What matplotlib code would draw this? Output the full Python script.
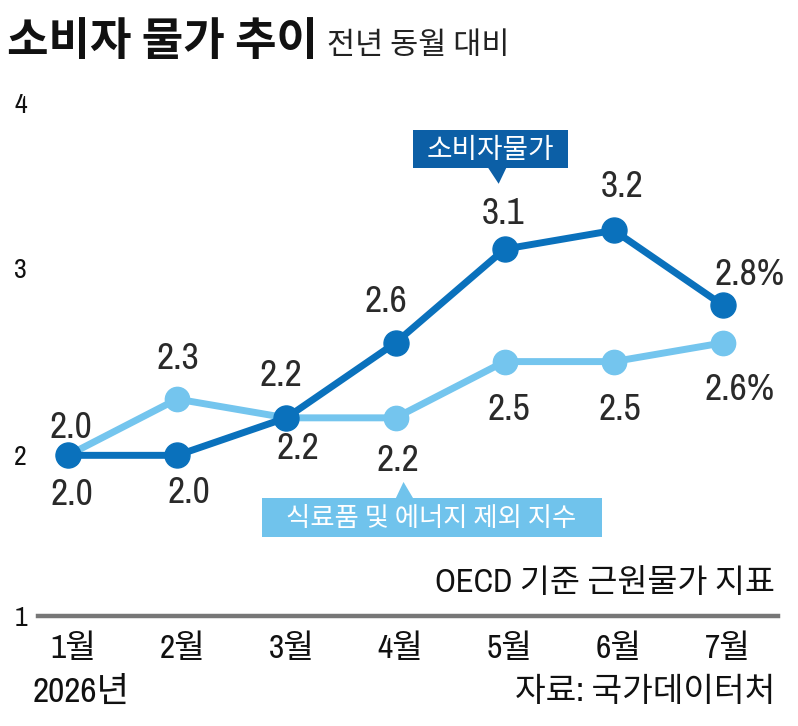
import matplotlib
matplotlib.use("Agg")
import matplotlib.pyplot as plt
import matplotlib.transforms as mtransforms
import matplotlib.font_manager as fm
from matplotlib.patches import Rectangle, Polygon

# ---------------- data ----------------
months = ["1월", "2월", "3월", "4월", "5월", "6월", "7월"]
cpi = [2.0, 2.0, 2.2, 2.6, 3.1, 3.2, 2.8]
core = [2.0, 2.3, 2.2, 2.2, 2.5, 2.5, 2.6]
cpi_labels = ["2.0", "2.0", "2.2", "2.6", "3.1", "3.2", "2.8%"]
core_labels = ["2.0", "2.3", "2.2", "2.2", "2.5", "2.5", "2.6%"]
ytick_labels = ["1", "2", "3", "4"]
title = "소비자 물가 추이"
subtitle = "전년 동월 대비"
cpi_name = "소비자물가"
core_name = "식료품 및 에너지 제외 지수"
note = "OECD 기준 근원물가 지표"
year_text = "2026년"
source = "자료: 국가데이터처"

# ---------------- fonts ----------------
names = {f.name for f in fm.fontManager.ttflist}
NARROW = "Liberation Sans"
for cand in ["Archivo Narrow", "Liberation Sans Narrow", "Asap Condensed", "Roboto Condensed"]:
    if cand in names:
        NARROW = cand
        break
KR = "Noto Sans CJK KR"
MIX = [NARROW, KR, "DejaVu Sans"]
plt.rcParams["font.family"] = [KR, "DejaVu Sans"]

DARK = "#0a71bc"
DARK_BOX = "#0c5fa6"
LIGHT = "#74c5ee"
LIGHT_BOX = "#70c3ec"
TXT = "#2a2a2a"

W, H = 798, 726
fig = plt.figure(figsize=(W / 100, H / 100), dpi=100)

def fx(px):
    return px / W

def fy(py):
    return 1 - py / H

ax = fig.add_axes([fx(38), fy(616), fx(778) - fx(38), fy(95) - fy(616)])
x = list(range(len(months)))
ax.set_xlim(-0.275, 6.504)
y0, y1 = 1.143, 3.922
ax.set_ylim(y0, y1)

ax.plot(x, core, color=LIGHT, lw=5, marker="o", ms=17.5, zorder=3, solid_capstyle="round")
ax.plot(x, cpi, color=DARK, lw=5, marker="o", ms=18, zorder=4, solid_capstyle="round")

for s in ["top", "right", "left"]:
    ax.spines[s].set_visible(False)
ax.spines["bottom"].set_color("#777777")
ax.spines["bottom"].set_linewidth(3.2)

ax.set_yticks([y0, 2, 3, 3.88], ytick_labels)
ax.tick_params(axis="y", length=0, pad=8)
for t in ax.get_yticklabels():
    t.set_fontfamily(NARROW)
    t.set_fontsize(20)
    t.set_color("#111111")

ax.set_xticks(x, months)
ax.tick_params(axis="x", length=0, pad=13)
shift = mtransforms.ScaledTranslation(5 / 100, 0, fig.dpi_scale_trans)
for t in ax.get_xticklabels():
    t.set_fontfamily(MIX)
    t.set_fontsize(24)
    t.set_color("#111111")
    t.set_transform(t.get_transform() + shift)

# data labels (pixel offsets, up positive)
cpi_off = [(4, -39), (12, -37), (-5, 42), (-10, 41), (-2, 36), (8, 44), (27, 31)]
core_off = [(3, 28), (1, 41), (12, -31), (2, -43), (4, -48), (6, -48), (17, -47)]
for xi, v, lab, (dx, dy) in zip(x, cpi, cpi_labels, cpi_off):
    ax.annotate(lab, (xi, v), xytext=(dx, dy), textcoords="offset pixels",
                ha="center", va="center", fontsize=27, family=NARROW,
                color=TXT, zorder=6)
for xi, v, lab, (dx, dy) in zip(x, core, core_labels, core_off):
    ax.annotate(lab, (xi, v), xytext=(dx, dy), textcoords="offset pixels",
                ha="center", va="center", fontsize=27, family=NARROW,
                color=TXT, zorder=6)

# callouts anchored to points
def callout(xd, yd, box, tri, color, text, fs):
    tr = mtransforms.IdentityTransform() + mtransforms.ScaledTranslation(xd, yd, ax.transData)
    (bx0, by0, bx1, by1) = box
    ax.add_patch(Rectangle((bx0, by0), bx1 - bx0, by1 - by0, transform=tr,
                           facecolor=color, edgecolor="none", zorder=7, clip_on=False))
    ax.add_patch(Polygon(tri, closed=True, transform=tr, facecolor=color,
                         edgecolor="none", zorder=7, clip_on=False))
    ax.text((bx0 + bx1) / 2, (by0 + by1) / 2 - 1, text, transform=tr, ha="center",
            va="center", color="white", fontsize=fs, family=[KR], zorder=8)

callout(4, cpi[4], (-92, 81.3, 63, 119.3), [(-17, 82), (2, 82), (-6, 65.3)],
        DARK_BOX, cpi_name, 20)
callout(3, core[3], (-134, -119.1, 206, -80.1), [(0, -81), (18, -81), (8, -64.1)],
        LIGHT_BOX, core_name, 19)

# titles and notes
fig.text(fx(7), fy(55), title, fontsize=32.5, fontweight="bold", color="#111111",
         va="baseline", ha="left", family=[KR])
fig.text(fx(327), fy(54), subtitle, fontsize=22, fontweight="light", color="#222222",
         va="baseline", ha="left", family=[KR])
fig.text(fx(775), fy(583), note, fontsize=23.5, color="#111111", ha="right",
         va="center", family=MIX)
fig.text(fx(33), fy(692), year_text, fontsize=25.5, color="#111111", ha="left",
         va="center", family=MIX)
fig.text(fx(775), fy(692), source, fontsize=24, color="#111111", ha="right",
         va="center", family=MIX)

fig.savefig("out.png", dpi=100)
